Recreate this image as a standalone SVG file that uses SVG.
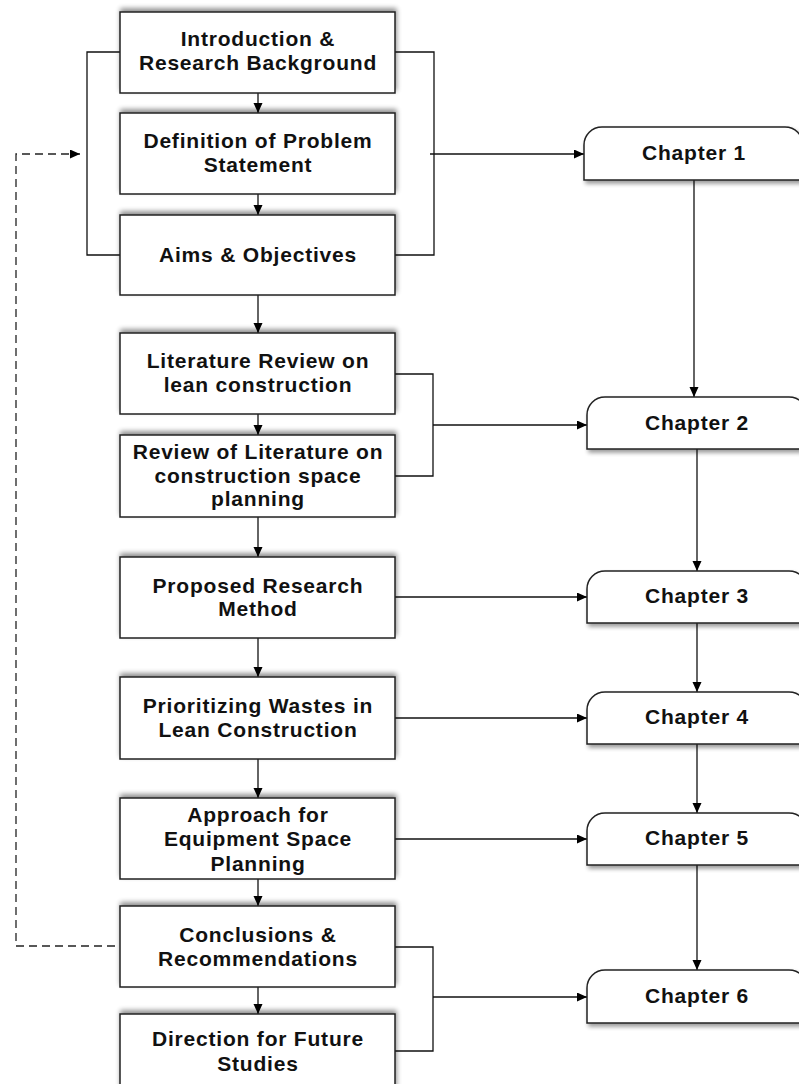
<svg xmlns="http://www.w3.org/2000/svg" width="799" height="1084" viewBox="0 0 799 1084">
<style>
.box{fill:#fff;stroke:#222;stroke-width:1.5;filter:url(#shUp)}
.chap{fill:#fff;stroke:#222;stroke-width:1.5;filter:url(#shDn)}
.t{font-family:"Liberation Sans",Arial,sans-serif;font-weight:bold;font-size:21px;letter-spacing:0.8px;fill:#111;text-anchor:middle}
.ln{fill:none;stroke:#111;stroke-width:1.3}
.dash{fill:none;stroke:#222;stroke-width:1.3;stroke-dasharray:8,5}
</style>
<defs>
<filter id="shUp" x="-10%" y="-20%" width="120%" height="140%">
<feGaussianBlur in="SourceAlpha" stdDeviation="2.5"/>
<feOffset dx="1" dy="-3" result="b"/>
<feComponentTransfer><feFuncA type="linear" slope="0.45"/></feComponentTransfer>
<feMerge><feMergeNode/><feMergeNode in="SourceGraphic"/></feMerge>
</filter>
<filter id="shDn" x="-10%" y="-20%" width="120%" height="150%">
<feGaussianBlur in="SourceAlpha" stdDeviation="2"/>
<feOffset dx="2" dy="3" result="b"/>
<feComponentTransfer><feFuncA type="linear" slope="0.4"/></feComponentTransfer>
<feMerge><feMergeNode/><feMergeNode in="SourceGraphic"/></feMerge>
</filter>
<marker id="ar" markerWidth="11" markerHeight="10" refX="10" refY="4.5" orient="auto" markerUnits="userSpaceOnUse">
<path d="M0,0 L10,4.5 L0,9 z" fill="#000"/>
</marker>
</defs>

<g id="connectors">
<line class="ln" x1="258" y1="93" x2="258" y2="113" marker-end="url(#ar)"/>
<line class="ln" x1="258" y1="194" x2="258" y2="215" marker-end="url(#ar)"/>
<line class="ln" x1="258" y1="295" x2="258" y2="333" marker-end="url(#ar)"/>
<line class="ln" x1="258" y1="414" x2="258" y2="435" marker-end="url(#ar)"/>
<line class="ln" x1="258" y1="517" x2="258" y2="557" marker-end="url(#ar)"/>
<line class="ln" x1="258" y1="638" x2="258" y2="677" marker-end="url(#ar)"/>
<line class="ln" x1="258" y1="759" x2="258" y2="798" marker-end="url(#ar)"/>
<line class="ln" x1="258" y1="879" x2="258" y2="906" marker-end="url(#ar)"/>
<line class="ln" x1="258" y1="987" x2="258" y2="1014" marker-end="url(#ar)"/>
<path class="ln" d="M120,52 H87 V255 H120"/>
<path class="ln" d="M395,52 H434 V255 H395"/>
<path class="ln" d="M395,374 H433 V476 H395"/>
<path class="ln" d="M395,947 H433 V1051 H395"/>
<line class="ln" x1="430" y1="154" x2="584" y2="154" marker-end="url(#ar)"/>
<line class="ln" x1="433" y1="425" x2="587" y2="425" marker-end="url(#ar)"/>
<line class="ln" x1="395" y1="597" x2="587" y2="597" marker-end="url(#ar)"/>
<line class="ln" x1="395" y1="718" x2="587" y2="718" marker-end="url(#ar)"/>
<line class="ln" x1="395" y1="839" x2="587" y2="839" marker-end="url(#ar)"/>
<line class="ln" x1="433" y1="997" x2="587" y2="997" marker-end="url(#ar)"/>
<line class="ln" x1="694" y1="180" x2="694" y2="397" marker-end="url(#ar)"/>
<line class="ln" x1="697" y1="449" x2="697" y2="571" marker-end="url(#ar)"/>
<line class="ln" x1="697" y1="623" x2="697" y2="692" marker-end="url(#ar)"/>
<line class="ln" x1="697" y1="744" x2="697" y2="813" marker-end="url(#ar)"/>
<line class="ln" x1="697" y1="865" x2="697" y2="970" marker-end="url(#ar)"/>
<path class="dash" d="M115,946 H16 V154 H80" marker-end="url(#ar)"/>
</g>

<g id="n1"><rect class="box" x="120" y="12" width="275" height="81"/>
<text class="t" x="258" y="46">Introduction &amp;</text><text class="t" x="258" y="70">Research Background</text></g>
<g id="n2"><rect class="box" x="120" y="113" width="275" height="81"/>
<text class="t" x="258" y="148">Definition of Problem</text><text class="t" x="258" y="172">Statement</text></g>
<g id="n3"><rect class="box" x="120" y="215" width="275" height="80"/>
<text class="t" x="258" y="262">Aims &amp; Objectives</text></g>
<g id="n4"><rect class="box" x="120" y="333" width="275" height="81"/>
<text class="t" x="258" y="368">Literature Review on</text><text class="t" x="258" y="392">lean construction</text></g>
<g id="n5"><rect class="box" x="120" y="435" width="275" height="82"/>
<text class="t" x="258" y="459">Review of Literature on</text><text class="t" x="258" y="483">construction space</text><text class="t" x="258" y="506">planning</text></g>
<g id="n6"><rect class="box" x="120" y="557" width="275" height="81"/>
<text class="t" x="258" y="593">Proposed Research</text><text class="t" x="258" y="616">Method</text></g>
<g id="n7"><rect class="box" x="120" y="677" width="275" height="82"/>
<text class="t" x="258" y="713">Prioritizing Wastes in</text><text class="t" x="258" y="737">Lean Construction</text></g>
<g id="n8"><rect class="box" x="120" y="798" width="275" height="81"/>
<text class="t" x="258" y="822">Approach for</text><text class="t" x="258" y="846">Equipment Space</text><text class="t" x="258" y="871">Planning</text></g>
<g id="n9"><rect class="box" x="120" y="906" width="275" height="81"/>
<text class="t" x="258" y="942">Conclusions &amp;</text><text class="t" x="258" y="966">Recommendations</text></g>
<g id="n10"><rect class="box" x="120" y="1014" width="275" height="82"/>
<text class="t" x="258" y="1046">Direction for Future</text><text class="t" x="258" y="1071">Studies</text></g>

<g id="c1"><path class="chap" d="M584,180 V145 A18,18 0 0 1 602,127 H785 A18,18 0 0 1 803,145 V180 Z"/>
<text class="t" x="694" y="160">Chapter 1</text></g>
<g id="c2"><path class="chap" d="M587,449 V415 A18,18 0 0 1 605,397 H789 A18,18 0 0 1 807,415 V449 Z"/>
<text class="t" x="697" y="430">Chapter 2</text></g>
<g id="c3"><path class="chap" d="M587,623 V589 A18,18 0 0 1 605,571 H789 A18,18 0 0 1 807,589 V623 Z"/>
<text class="t" x="697" y="603">Chapter 3</text></g>
<g id="c4"><path class="chap" d="M587,744 V710 A18,18 0 0 1 605,692 H789 A18,18 0 0 1 807,710 V744 Z"/>
<text class="t" x="697" y="724">Chapter 4</text></g>
<g id="c5"><path class="chap" d="M587,865 V831 A18,18 0 0 1 605,813 H789 A18,18 0 0 1 807,831 V865 Z"/>
<text class="t" x="697" y="845">Chapter 5</text></g>
<g id="c6"><path class="chap" d="M587,1023 V988 A18,18 0 0 1 605,970 H789 A18,18 0 0 1 807,988 V1023 Z"/>
<text class="t" x="697" y="1003">Chapter 6</text></g>
</svg>
